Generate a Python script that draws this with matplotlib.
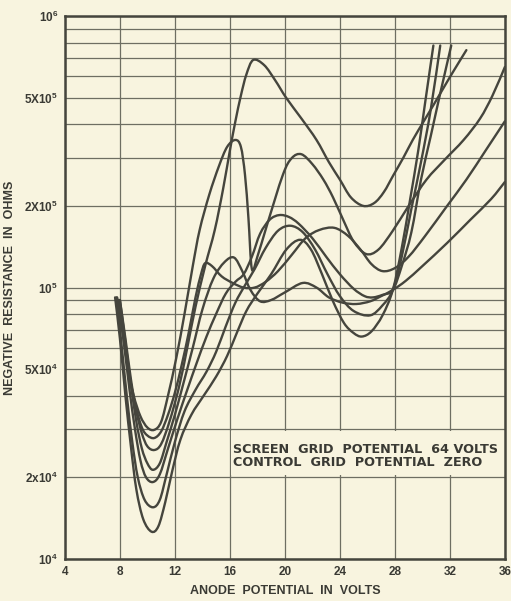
import matplotlib
matplotlib.use("Agg")
import numpy as np
import matplotlib.pyplot as plt
from matplotlib.patches import Rectangle, PathPatch
from matplotlib.path import Path
from matplotlib.ticker import LogLocator, NullFormatter

# anode potential (V) / negative resistance (ohms)
a_v = [8.0, 8.4, 8.8, 9.2, 9.6, 10.0, 10.5, 11.0, 11.6, 12.3, 12.9, 13.5, 14.2, 14.9, 15.5, 16.0, 16.4, 16.8,
       17.2, 17.7, 18.5, 19.3, 20.1, 21.2, 22.3, 23.2, 24.0, 24.8, 25.7, 26.5, 27.2, 27.9, 28.6, 29.3, 30.1,
       30.8, 31.5, 32.2, 33.2]
a_r = [9.0e4, 6.5e4, 4.6e4, 3.5e4, 2.9e4, 2.6e4, 2.52e4, 2.65e4, 3.2e4, 4.3e4, 6.0e4, 8.5e4, 1.2e5, 1.63e5,
       2.3e5, 3.2e5, 4.1e5, 5.1e5, 6.1e5, 6.9e5, 6.6e5, 5.8e5, 5.0e5, 4.2e5, 3.5e5, 2.9e5, 2.5e5, 2.15e5,
       2.0e5, 2.05e5, 2.25e5, 2.6e5, 3.0e5, 3.5e5, 4.1e5, 4.7e5, 5.4e5, 6.2e5, 7.5e5]

b_v = [7.8, 8.2, 8.6, 9.0, 9.5, 10.0, 10.5, 11.0, 11.5, 12.1, 12.7, 13.3, 13.8, 14.5, 15.2, 15.8, 16.4, 16.8,
       17.1, 17.35, 17.6, 18.0, 18.7, 19.85, 20.5, 21.2, 22.0, 22.8, 23.5, 24.3, 25.0, 25.9, 26.8, 27.85,
       29.0, 30.3, 31.6, 33.0, 34.2, 35.1, 36.0]
b_r = [9.2e4, 6.8e4, 5.0e4, 4.0e4, 3.35e4, 3.05e4, 2.99e4, 3.2e4, 4.0e4, 5.5e4, 8.0e4, 1.2e5, 1.63e5, 2.2e5,
       2.8e5, 3.3e5, 3.5e5, 3.3e5, 2.6e5, 1.8e5, 1.17e5, 1.3e5, 1.7e5, 2.6e5, 3.0e5, 3.1e5, 2.85e5, 2.5e5,
       2.15e5, 1.75e5, 1.48e5, 1.33e5, 1.38e5, 1.62e5, 2.0e5, 2.5e5, 2.95e5, 3.5e5, 4.2e5, 5.1e5, 6.5e5]

c_v = [7.9, 8.3, 8.7, 9.1, 9.6, 10.0, 10.5, 11.0, 11.5, 12.0, 12.5, 13.0, 13.5, 13.9, 14.2, 14.7, 15.4, 16.2,
       17.0, 17.8, 18.6, 19.5, 20.5, 21.5, 22.5, 23.6, 24.6, 25.5, 26.3, 27.1, 28.0, 29.0, 30.2, 31.8, 33.2,
       34.6, 36.0]
c_r = [9.0e4, 6.5e4, 4.7e4, 3.7e4, 3.05e4, 2.85e4, 2.79e4, 2.95e4, 3.4e4, 4.1e4, 5.2e4, 6.8e4, 9.2e4, 1.12e5,
       1.23e5, 1.2e5, 1.1e5, 1.04e5, 1.0e5, 1.0e5, 1.05e5, 1.15e5, 1.32e5, 1.52e5, 1.63e5, 1.66e5, 1.55e5,
       1.38e5, 1.22e5, 1.15e5, 1.18e5, 1.3e5, 1.55e5, 2.0e5, 2.5e5, 3.2e5, 4.1e5]

d_v = [8.0, 8.4, 8.8, 9.2, 9.6, 10.0, 10.4, 10.9, 11.4, 12.0, 12.6, 13.3, 14.0, 14.8, 15.6, 16.3, 16.9, 17.5,
       18.2, 19.0, 20.0, 21.3, 22.3, 23.2, 24.2, 25.2, 26.2, 27.0, 27.85, 28.8, 30.0, 31.8, 33.5, 35.0, 36.0]
d_r = [9.0e4, 6.3e4, 4.4e4, 3.2e4, 2.55e4, 2.25e4, 2.13e4, 2.25e4, 2.7e4, 3.4e4, 4.4e4, 6.0e4, 8.3e4, 1.08e5,
       1.24e5, 1.29e5, 1.15e5, 9.8e4, 8.9e4, 9.0e4, 9.6e4, 1.04e5, 1.0e5, 9.2e4, 8.8e4, 8.7e4, 8.9e4, 9.3e4,
       9.8e4, 1.06e5, 1.2e5, 1.46e5, 1.78e5, 2.12e5, 2.45e5]

e_v = [7.9, 8.3, 8.7, 9.1, 9.5, 9.9, 10.4, 10.9, 11.5, 12.2, 12.9, 13.6, 14.3, 15.0, 15.7, 16.4, 17.0, 17.6,
       18.2, 18.9, 19.6, 20.3, 21.0, 22.0, 23.0, 24.0, 25.0, 25.8, 26.4, 27.1, 27.85, 28.5, 29.2, 29.9, 30.6,
       31.3, 32.1]
e_r = [9.0e4, 6.2e4, 4.2e4, 3.0e4, 2.3e4, 2.0e4, 1.92e4, 2.05e4, 2.55e4, 3.3e4, 4.2e4, 5.3e4, 6.6e4, 8.0e4,
       9.5e4, 1.05e5, 1.12e5, 1.3e5, 1.58e5, 1.78e5, 1.85e5, 1.82e5, 1.72e5, 1.52e5, 1.3e5, 1.12e5, 9.9e4,
       9.3e4, 9.2e4, 9.4e4, 9.8e4, 1.2e5, 1.6e5, 2.5e5, 3.6e5, 5.2e5, 7.8e5]

f_v = [7.75, 8.1, 8.5, 8.9, 9.3, 9.8, 10.4, 10.9, 11.4, 12.0, 12.7, 13.5, 14.3, 15.0, 15.7, 16.4, 17.1, 17.8,
       18.6, 19.5, 20.4, 21.3, 22.2, 23.1, 24.0, 25.0, 26.2, 27.1, 27.85, 28.5, 29.2, 29.9, 30.6, 31.3]
f_r = [9.2e4, 6.3e4, 4.0e4, 2.7e4, 2.0e4, 1.65e4, 1.55e4, 1.65e4, 2.05e4, 2.7e4, 3.5e4, 4.2e4, 4.9e4, 5.8e4,
       7.2e4, 8.8e4, 1.02e5, 1.17e5, 1.4e5, 1.62e5, 1.69e5, 1.6e5, 1.38e5, 1.12e5, 9.3e4, 8.2e4, 7.9e4,
       8.6e4, 9.8e4, 1.3e5, 1.95e5, 2.9e5, 4.5e5, 7.8e5]

g_v = [7.65, 8.0, 8.4, 8.8, 9.2, 9.7, 10.3, 10.8, 11.3, 11.8, 12.4, 13.2, 14.1, 15.0, 15.8, 16.5, 17.2, 18.0,
       19.0, 20.1, 21.1, 21.9, 22.7, 23.5, 24.3, 25.0, 25.6, 26.3, 27.1, 27.85, 28.5, 29.1, 29.7, 30.2, 30.8]
g_r = [9.2e4, 6.5e4, 4.0e4, 2.6e4, 1.8e4, 1.4e4, 1.26e4, 1.32e4, 1.62e4, 2.1e4, 2.75e4, 3.4e4, 4.0e4, 4.7e4,
       5.6e4, 6.8e4, 8.2e4, 9.5e4, 1.12e5, 1.38e5, 1.5e5, 1.38e5, 1.12e5, 8.9e4, 7.4e4, 6.8e4, 6.6e4, 6.9e4,
       7.9e4, 9.8e4, 1.4e5, 2.1e5, 3.2e5, 4.8e5, 7.8e5]

x_ticks = [4, 8, 12, 16, 20, 24, 28, 32, 36]
y_ticks = [1e4, 2e4, 5e4, 1e5, 2e5, 5e5, 1e6]
y_labels = ['10$^4$', '2x10$^4$', '5X10$^4$', '10$^5$', '2X10$^5$', '5X10$^5$', '10$^6$']

bg = '#f8f4df'
ink = '#45453d'
txt = '#3a3a34'
plt.rcParams['font.family'] = ['Liberation Sans', 'DejaVu Sans']
plt.rcParams['mathtext.default'] = 'regular'


def smooth_curve(ax, v, r):
    # hand-drawn look: catmull-rom through the read points, in (V, log R)
    p = np.column_stack([v, np.log10(r)])
    n = len(p)
    verts = [p[0]]
    codes = [Path.MOVETO]
    for i in range(n - 1):
        p0, p1, p2, p3 = p[max(i - 1, 0)], p[i], p[i + 1], p[min(i + 2, n - 1)]
        verts += [p1 + (p2 - p0) / 6, p2 - (p3 - p1) / 6, p2]
        codes += [Path.CURVE4] * 3
    verts = np.array(verts)
    verts[:, 1] = 10 ** verts[:, 1]
    ax.add_patch(PathPatch(Path(verts, codes), fill=False, edgecolor=ink, lw=1.7,
                           capstyle='round', joinstyle='round', zorder=2))


fig = plt.figure(figsize=(5.11, 6.01), dpi=100, facecolor=bg)
ax = fig.add_axes([0.127, 0.070, 0.861, 0.903])
ax.set_facecolor(bg)
ax.set_yscale('log')
ax.set_xlim(4, 36)
ax.set_ylim(1e4, 1e6)

ax.set_xticks(x_ticks)
ax.set_xticklabels([str(t) for t in x_ticks], fontsize=8.5, fontweight='bold', color=txt)
ax.set_yticks(y_ticks)
ax.set_yticklabels(y_labels, fontsize=8.5, fontweight='bold', color=txt)
ax.yaxis.set_minor_locator(LogLocator(base=10, subs=range(2, 10)))
ax.yaxis.set_minor_formatter(NullFormatter())
ax.tick_params(which='both', length=0, pad=5)
ax.set_axisbelow(True)
ax.grid(True, which='both', color='#6e6e62', lw=0.9)
for s in ax.spines.values():
    s.set_linewidth(1.8)
    s.set_color(ink)

# blank panel behind the note
ax.add_patch(Rectangle((16.1, 2.03e4), 19.9, 0.93e4, facecolor=bg, edgecolor='none', zorder=1))
ax.text(16.2, 2.54e4, 'SCREEN  GRID  POTENTIAL  64 VOLTS', fontsize=9.2, fontweight='bold',
        family='DejaVu Sans', color=txt, va='center', zorder=3)
ax.text(16.2, 2.26e4, 'CONTROL  GRID  POTENTIAL  ZERO', fontsize=9.2, fontweight='bold',
        family='DejaVu Sans', color=txt, va='center', zorder=3)

for v, r in [(a_v, a_r), (b_v, b_r), (c_v, c_r), (d_v, d_r), (e_v, e_r), (f_v, f_r), (g_v, g_r)]:
    smooth_curve(ax, v, r)

ax.set_xlabel('ANODE  POTENTIAL  IN  VOLTS', fontsize=9, fontweight='bold', color=txt, labelpad=5)
ax.set_ylabel('NEGATIVE  RESISTANCE  IN  OHMS', fontsize=9, fontweight='bold', color=txt, labelpad=6)

fig.savefig('out.png', dpi=100, facecolor=bg)
